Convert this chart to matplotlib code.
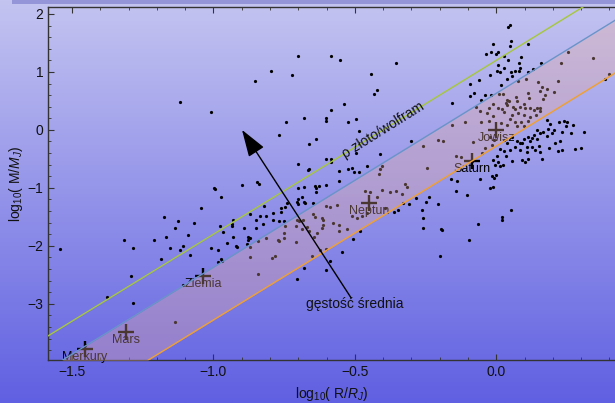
import numpy as np
import matplotlib.pyplot as plt
from matplotlib.patches import Rectangle
from matplotlib.ticker import MultipleLocator

plt.rcParams['font.family'] = ['Liberation Sans', 'DejaVu Sans']
plt.rcParams['mathtext.fontset'] = 'custom'
plt.rcParams['mathtext.rm'] = 'Liberation Sans'
plt.rcParams['mathtext.it'] = 'Liberation Sans:italic'

# egzoplanety: (log10 R/RJ, log10 M/MJ)
exo = [
    (-1.119, 0.48), (-1.009, 0.31), (-0.853, 0.84), (-0.796, 1.02), (-0.722, 0.95), (-0.701, 1.28),
    (-0.743, 0.14), (-0.680, 0.21), (-0.768, -0.09), (-0.701, -0.59), (-0.998, -1.00), (-0.995, -1.02),
    (-0.973, -1.16), (-0.899, -0.95), (-0.846, -0.90), (-0.839, -0.93), (-0.701, -1.00), (-0.680, -0.98),
    (-0.687, -1.16), (-0.701, -1.19), (-0.662, -0.24), (-0.662, -0.67),
    (-0.585, 1.28), (-0.552, 1.21), (-0.355, 1.15), (-0.444, 0.97), (-0.421, 0.68), (-0.432, 0.62),
    (-0.538, 0.45), (-0.585, 0.34), (-0.602, 0.21), (-0.602, 0.16), (-0.524, 0.14), (-0.496, 0.19),
    (-0.485, -0.02), (-0.637, -0.16), (-0.496, -0.40), (-0.411, -0.41), (-0.602, -0.50), (-0.585, -0.50),
    (-0.585, -0.55), (-0.524, -0.67), (-0.510, -0.66), (-0.557, -0.71), (-0.503, -0.72), (-0.486, -0.72),
    (-0.457, -0.62), (-0.557, -0.88), (-0.642, -0.96), (-0.627, -0.96), (-0.602, -0.95), (-0.637, -1.01),
    (-0.637, -1.07),
    (-0.411, -0.67), (-0.404, -0.62), (-0.415, -0.76), (-0.301, -0.19), (-0.258, -0.27), (-0.244, -0.66),
    (-0.205, -0.18), (-0.464, -1.06), (-0.446, -1.08), (-0.421, -1.15), (-0.404, -1.03), (-0.375, -1.08),
    (-0.355, -1.05), (-0.334, -1.10), (-0.323, -0.93), (-0.316, -0.99), (-0.283, -1.17), (-0.237, -1.15),
    (-0.664, -0.69), (-1.045, -1.34), (-0.705, -1.25), (-0.700, -1.28), (-0.680, -1.25), (-0.676, -1.26),
    (-0.741, -1.26), (-0.747, -1.33), (-0.761, -1.35), (-0.821, -1.32), (-0.790, -1.43), (-0.762, -1.41),
    (-0.835, -1.48), (-0.815, -1.48), (-0.871, -1.45), (-1.174, -1.50), (-1.125, -1.58), (-1.070, -1.60),
    (-0.932, -1.55), (-0.935, -1.63), (-0.850, -1.56), (-0.824, -1.63), (-0.788, -1.55), (-0.769, -1.57),
    (-0.749, -1.57), (-0.977, -1.66), (-1.136, -1.69), (-0.892, -1.69), (-0.851, -1.69), (-0.965, -1.76),
    (-1.210, -1.90), (-1.167, -1.85), (-1.091, -1.82), (-0.931, -1.85), (-0.879, -1.85), (-0.871, -1.86),
    (-0.879, -1.90), (-0.951, -1.95), (-0.921, -2.00), (-0.918, -2.02), (-0.882, -1.97), (-1.108, -2.00),
    (-1.154, -2.04), (-1.119, -2.07), (-1.008, -2.04), (-0.983, -2.08), (-1.082, -2.16), (-1.187, -2.22),
    (-0.973, -2.22), (-0.971, -2.26), (-0.984, -2.28), (-0.844, -1.91), (-0.933, -1.65),
    (-0.705, -1.55), (-0.697, -1.58), (-0.684, -1.55), (-0.709, -1.66), (-0.688, -1.71), (-0.670, -1.67),
    (-0.747, -1.66), (-0.749, -1.78), (-0.750, -1.87), (-0.773, -1.90), (-0.768, -1.91), (-0.814, -1.87),
    (-0.870, -2.02), (-0.708, -1.93), (-0.871, -2.19), (-0.782, -2.17), (-0.793, -2.21), (-0.679, -2.38),
    (-1.544, -2.05), (-1.317, -1.90), (-1.284, -2.04), (-1.292, -2.52), (-1.284, -2.99), (-1.377, -2.88),
    (-1.136, -3.32), (-1.108, -2.67), (-0.841, -2.49), (-0.703, -2.57), (-1.454, -3.71),
    (-0.249, -1.24), (-0.206, -1.28), (-0.261, -1.38), (-0.259, -1.52), (-0.259, -1.69), (-0.196, -1.71),
    (-0.192, -1.72), (-0.198, -2.17), (-0.096, -1.90), (-0.063, -1.62), (0.022, -1.51), (0.022, -1.55),
    (0.052, -1.39),
    (-0.602, -2.41), (-0.588, -2.27), (-0.544, -2.10), (-0.505, -1.88), (-0.481, -1.74), (-0.555, -1.74),
    (-0.555, -1.64), (-0.528, -1.71), (-0.576, -1.60), (-0.611, -1.64), (-0.602, -2.06), (-0.623, -2.07),
    (-0.643, -1.85), (-0.635, -1.78), (-0.661, -1.74), (-0.617, -1.69), (-0.611, -1.55), (-0.647, -1.45),
    (-0.641, -1.51), (-0.616, -1.52), (-0.602, -1.32), (-0.588, -1.33), (-0.647, -1.26), (-0.564, -1.29),
    (-0.511, -1.48), (-0.493, -1.52), (-0.475, -1.49), (-0.458, -1.44), (-0.361, -1.41), (-0.346, -1.39),
    (-0.328, -1.26), (-0.310, -1.28), (-0.393, -1.35), (-0.652, -2.18),
    (0.050, 1.81), (0.042, 1.78), (-0.013, 1.48), (0.053, 1.53), (0.047, 1.45), (0.114, 1.48),
    (-0.018, 1.35), (-0.036, 1.31), (0.005, 1.34), (0.000, 1.31), (0.026, 1.28), (0.086, 1.26),
    (0.042, 1.21), (0.080, 1.15), (0.005, 1.12), (0.158, 1.15), (0.085, 1.07), (0.029, 1.06),
    (0.002, 1.02), (0.014, 1.00), (0.053, 0.99), (0.066, 1.02), (0.080, 1.01), (0.114, 1.00),
    (0.130, 1.05), (0.056, 0.93), (0.038, 0.88), (-0.021, 0.95), (-0.061, 0.86), (-0.092, 0.79),
    (0.017, 0.78), (-0.077, 0.63), (-0.091, 0.59), (-0.054, 0.52), (-0.039, 0.60), (-0.018, 0.60),
    (-0.156, 0.47),
    (0.254, 1.34), (0.342, 1.24), (0.230, 1.15), (0.398, 0.96), (0.383, 0.88), (0.217, 0.85),
    (0.148, 0.82), (0.106, 0.87), (0.078, 0.85), (0.162, 0.74), (0.179, 0.70), (0.156, 0.67),
    (0.206, 0.65), (0.111, 0.63), (0.171, 0.61), (0.070, 0.56), (0.117, 0.55), (0.167, 0.53),
    (0.038, 0.52), (0.033, 0.46), (0.044, 0.49), (0.073, 0.49), (0.010, 0.62), (0.024, 0.62),
    (-0.013, 0.44), (0.085, 0.40), (0.118, 0.38), (0.103, 0.37), (0.144, 0.37), (0.156, 0.37),
    (0.008, 0.38), (0.020, 0.36), (-0.027, 0.37), (0.059, 0.40), (0.067, 0.36),
    (0.038, 0.43), (0.097, 0.45), (0.135, 0.34), (0.026, 0.30), (0.056, 0.26), (0.077, 0.29),
    (0.097, 0.26), (0.120, 0.23), (0.142, 0.26), (0.156, 0.32), (0.047, 0.18), (0.067, 0.14),
    (0.088, 0.13), (0.111, 0.16), (0.018, 0.12), (0.038, 0.08), (0.073, 0.06), (0.099, 0.06),
    (-0.027, 0.15), (-0.053, 0.13), (-0.110, 0.13), (-0.157, 0.09), (-0.187, -0.20), (-0.082, -0.21),
    (-0.015, -0.26), (-0.039, -0.31), (-0.143, -0.45), (-0.123, -0.47), (-0.084, -0.53), (-0.071, 0.40),
    (-0.057, 0.33), (-0.033, 0.29), (-0.010, 0.24), (-0.050, -0.40),
    (0.179, 0.17), (0.191, 0.10), (0.182, 0.01), (0.221, 0.13), (0.238, 0.16), (0.252, 0.14),
    (0.248, 0.07), (0.270, 0.08), (0.233, -0.04), (0.264, -0.06), (0.309, -0.03), (0.198, -0.06),
    (0.167, -0.03), (0.144, -0.01), (0.156, -0.06), (0.132, -0.09), (0.114, -0.12), (0.126, -0.14),
    (0.144, -0.16), (0.097, -0.16), (0.073, -0.20), (0.091, -0.22), (0.109, -0.29), (0.126, -0.29),
    (0.150, -0.28), (0.067, -0.29), (0.050, -0.34), (0.085, -0.34), (0.109, -0.39), (0.138, -0.34),
    (0.156, -0.39), (0.026, -0.37), (0.014, -0.33), (0.035, -0.45), (0.056, -0.53), (0.091, -0.52),
    (0.103, -0.55), (0.114, -0.51), (0.163, -0.51), (0.185, -0.32), (0.209, -0.22), (0.227, -0.20),
    (0.217, -0.36), (0.233, -0.34), (0.280, -0.33), (0.300, -0.31), (0.002, -0.45), (-0.010, -0.52),
    (0.008, -0.55), (-0.004, -0.60), (0.012, -0.63), (0.024, -0.60), (-0.015, -0.79), (0.000, -0.78),
    (-0.007, -0.83), (-0.059, -0.85), (-0.159, -0.85), (-0.137, -0.89), (-0.021, -1.01), (-0.010, -0.99),
    (-0.142, -1.06), (-0.102, -1.13), (-0.021, -0.12), (-0.007, -0.17), (0.026, -0.17), (0.038, -0.22),
    (0.056, -0.12), (0.085, -0.23), (0.120, -0.20), (0.179, -0.10), (0.203, 0.00),
]
log_r = [p[0] for p in exo]
log_m = [p[1] for p in exo]

# planety Układu Słonecznego
planet_names = ['Merkury', 'Mars', 'Ziemia', 'Neptun', 'Saturn', 'Jowisz']
planet_r = [-1.455, -1.310, -1.037, -0.450, -0.086, 0.0]
planet_m = [-3.78, -3.48, -2.52, -1.26, -0.53, 0.0]

# linie stałej gęstości: log M = 3 log R + c
c_gold = 1.20
c_upper = 0.63
c_lower = -0.28

fig = plt.figure(figsize=(6.15, 4.03), dpi=100)

# tło z gradientem
bg = fig.add_axes([0, 0, 1, 1], zorder=-10)
top = np.array([196, 196, 241]) / 255
bot = np.array([96, 96, 226]) / 255
t = np.linspace(0, 1, 256)[:, None, None]
bg.imshow(top + (bot - top) * t, aspect='auto', extent=[0, 1, 0, 1])
bg.add_patch(Rectangle((0.02, 0.99), 0.98, 0.01, color=(0.58, 0.58, 0.85), lw=0))
bg.set_xlim(0, 1)
bg.set_ylim(0, 1)
bg.axis('off')

ax = fig.add_axes([48 / 615, 43 / 403, 567 / 615, 353 / 403])
ax.set_facecolor('none')
ax.set_xlim(-1.585, 0.42)
ax.set_ylim(-3.97, 2.12)

ax.plot(log_r, log_m, 'o', ms=2.3, color='black', mec='none', zorder=2)

ax.plot(planet_r, planet_m, '+', ms=12, mew=1.7, color='black', zorder=3)
for name, x, y in zip(planet_names, planet_r, planet_m):
    ax.annotate(name, (x, y), xytext=(0, -6), textcoords='offset points',
                ha='center', va='center', fontsize=9, color='black', zorder=3)

xs = np.array(ax.get_xlim())
ax.fill_between(xs, 3 * xs + c_upper, 3 * xs + c_lower, color=(0.92, 0.68, 0.62),
                alpha=0.32, lw=0, zorder=4)
ax.plot(xs, 3 * xs + c_gold, color='#a6c83a', lw=1, zorder=5)
ax.plot(xs, 3 * xs + c_upper, color='#6a94c8', lw=1, zorder=5)
ax.plot(xs, 3 * xs + c_lower, color='#f0a030', lw=1, zorder=5)

ax.text(-0.399, -0.01, 'ρ złoto/wolfram', rotation=32, ha='center', va='center',
        fontsize=10, color='#111111', zorder=6)

ax.annotate('', xy=(-0.899, 0.0), xytext=(-0.513, -2.90),
            arrowprops=dict(arrowstyle='-|>,head_length=0.42,head_width=0.14',
                            mutation_scale=40, lw=1, color='black',
                            shrinkA=0, shrinkB=0), zorder=6)
ax.text(-0.499, -3.0, 'gęstość średnia', ha='center', va='center', fontsize=10,
        color='#111111', zorder=6)

ax.xaxis.set_major_locator(MultipleLocator(0.5))
ax.xaxis.set_minor_locator(MultipleLocator(0.1))
ax.yaxis.set_major_locator(MultipleLocator(1))
ax.yaxis.set_minor_locator(MultipleLocator(0.2))
ax.tick_params(which='both', direction='in', top=True, right=False, colors='#333333',
               labelcolor='#111111', labelsize=10)
ax.tick_params(which='major', length=4, width=0.8)
ax.tick_params(which='minor', length=2, width=0.6)
ax.spines['right'].set_visible(False)
for s in ['left', 'bottom', 'top']:
    ax.spines[s].set_color('#333333')
    ax.spines[s].set_linewidth(1)

ax.set_xlabel(r'log$_{10}$( R/$R_J$)', fontsize=10, color='#111111')
ax.set_ylabel(r'log$_{10}$( M/$M_J$)', fontsize=10, color='#111111')
ax.xaxis.set_label_coords(0.5, -0.072)
ax.yaxis.set_label_coords(-0.04, 0.5)

fig.savefig('out.png', dpi=100)
